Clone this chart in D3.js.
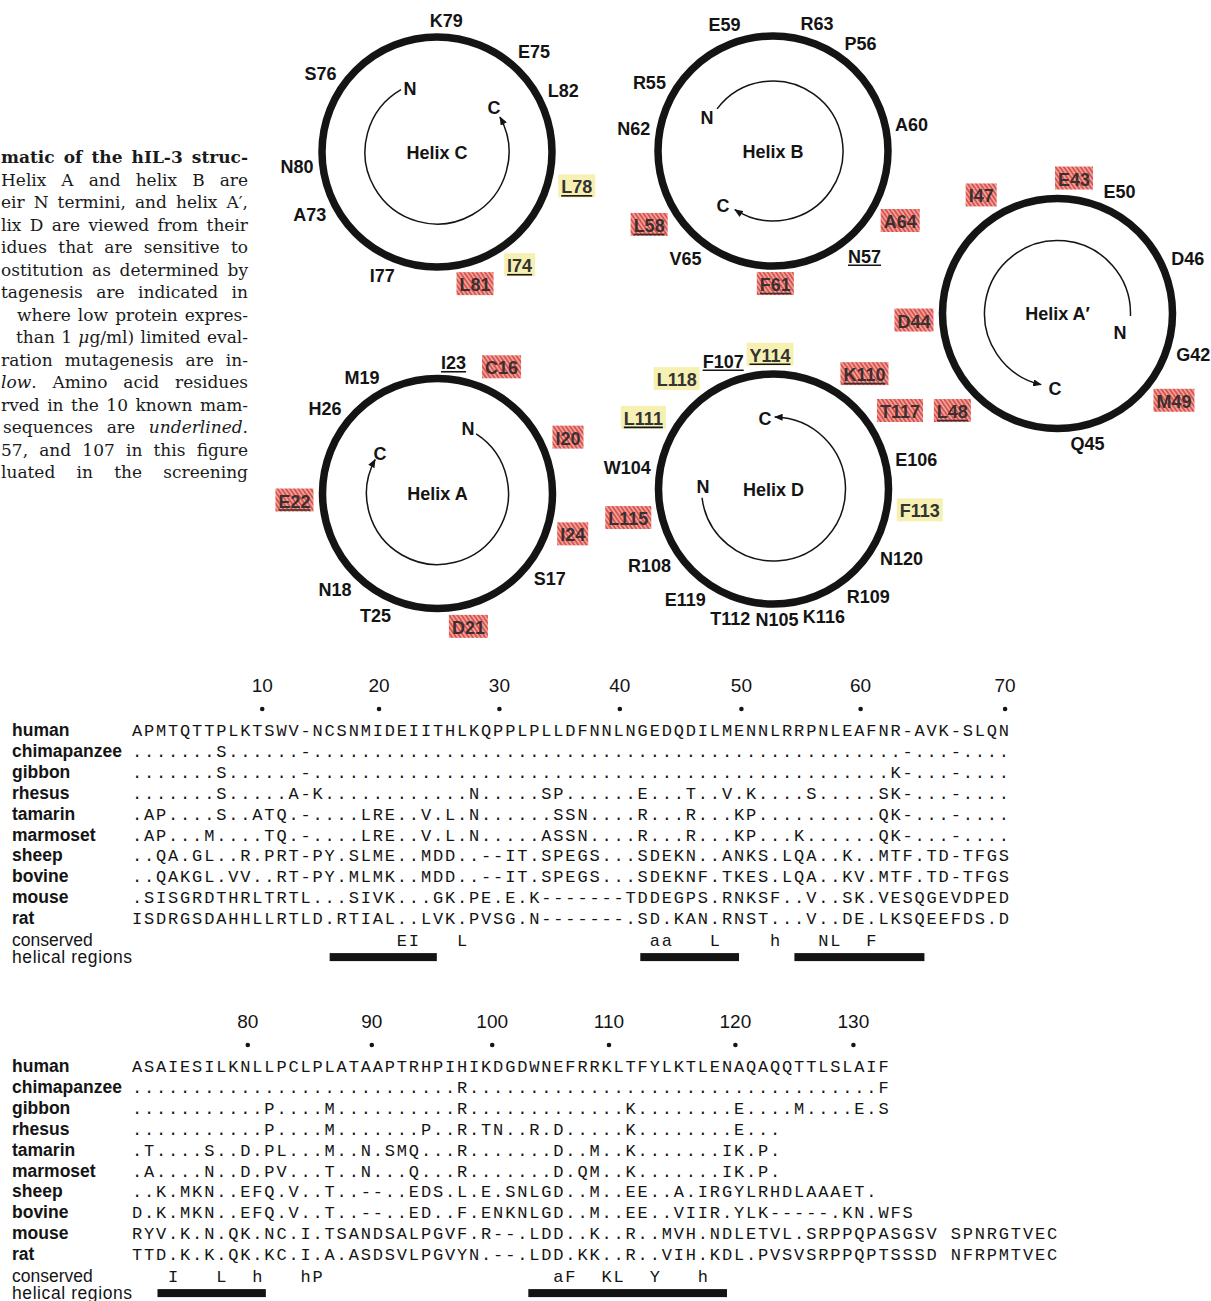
<!DOCTYPE html>
<html>
<head>
<meta charset="utf-8">
<title>hIL-3 helical wheels and mammalian IL-3 alignment</title>
<script src="https://cdn.jsdelivr.net/npm/d3@7/dist/d3.min.js"></script>
<style>
  html, body { margin: 0; padding: 0; background: #fff; }
  svg { display: block; }
</style>
</head>
<body>
<script>
// ---------------------------------------------------------------
// Alignment of the ten known mammalian IL-3 sequences,
// written in blocks of ten columns ("." = identical to human).
// ---------------------------------------------------------------
const species = ["human", "chimapanzee", "gibbon", "rhesus", "tamarin",
                 "marmoset", "sheep", "bovine", "mouse", "rat"];

const block1 = [
  ["APMTQTTPLK","TSWV-NCSNM","IDEIITHLKQ","PPLPLLDFNN","LNGEDQDILM","ENNLRRPNLE","AFNR-AVK-S","LQN"],
  [".......S..","....-.....","..........","..........","..........","..........","....-...-.","..."],
  [".......S..","....-.....","..........","..........","..........","..........","...K-...-.","..."],
  [".......S..","...A-K....","........N.","....SP....","..E...T..V",".K....S...","..SK-...-.","..."],
  [".AP....S..","ATQ.-....L","RE..V.L.N.",".....SSN..","..R...R...","KP........","..QK-...-.","..."],
  [".AP...M...",".TQ.-....L","RE..V.L.N.","....ASSN..","..R...R...","KP...K....","..QK-...-.","..."],
  ["..QA.GL..R",".PRT-PY.SL","ME..MDD..-","-IT.SPEGS.","..SDEKN..A","NKS.LQA..K","..MTF.TD-T","FGS"],
  ["..QAKGL.VV","..RT-PY.ML","MK..MDD..-","-IT.SPEGS.","..SDEKNF.T","KES.LQA..K","V.MTF.TD-T","FGS"],
  [".SISGRDTHR","LTRTL...SI","VK...GK.PE",".E.K------","-TDDEGPS.R","NKSF..V..S","K.VESQGEVD","PED"],
  ["ISDRGSDAHH","LLRTLD.RTI","AL..LVK.PV","SG.N------","-.SD.KAN.R","NST...V..D","E.LKSQEEFD","S.D"]
].map(chunks => chunks.join(""));

const block2 = [
  ["ASAIESILKN","LLPCLPLATA","APTRHPIHIK","DGDWNEFRRK","LTFYLKTLEN","AQAQQTTLSL","AIF"],
  ["..........","..........",".......R..","..........","..........","..........","..F"],
  ["..........",".P....M...",".......R..","..........",".K........","E....M....","E.S"],
  ["..........",".P....M...","....P..R.T","N..R.D....",".K........","E..."],
  [".T....S..D",".PL...M..N",".SMQ...R..",".....D..M.",".K.......I","K.P."],
  [".A....N..D",".PV...T..N","...Q...R..",".....D.QM.",".K.......I","K.P."],
  ["..K.MKN..E","FQ.V..T..-","-..EDS.L.E",".SNLGD..M.",".EE..A.IRG","YLRHDLAAAE","T."],
  ["D.K.MKN..E","FQ.V..T..-","-..ED..F.E","NKNLGD..M.",".EE..VIIR.","YLK-----.K","N.WFS"],
  ["RYV.K.N.QK",".NC.I.TSAN","DSALPGVF.R","--.LDD..K.",".R..MVH.ND","LETVL.SRPP","QPASGSV SP","NRGTVEC"],
  ["TTD.K.K.QK",".KC.I.A.AS","DSVLPGVYN.","--.LDD.KK.",".R..VIH.KD","L.PVSVSRPP","QPTSSSD NF","RPMTVEC"]
].map(chunks => chunks.join(""));

// Consensus line: capitals = identical in all ten, a = acidic, h = hydrophobic
const conserved1 = ["          ","          ","  EI   L  ","          ","   aa   L ","   h   NL "," F"].join("");
const conserved2 = ["   I   L  ","h   hP    ","          ","     aF  K","L  Y   h"].join("");

// Residue-number ticks and the alignment column each one sits over
const tickLabels1 = [10, 20, 30, 40, 50, 60, 70];
const tickCols1   = [10.4, 20.1, 30.1, 40.1, 50.2, 60.1, 72.1];
const tickLabels2 = [80, 90, 100, 110, 120, 130];
const tickCols2   = [9.2, 19.5, 29.5, 39.2, 49.7, 59.5];

// Helical regions, as [first column, last column] spans of the alignment
const helices1 = [[16.5, 25.4], [42.3, 50.5], [55.1, 65.9]];
const helices2 = [[2.2, 11.2], [33.0, 49.5]];

// ---------------------------------------------------------------
// Helical wheels (residue numbers in the mature hIL-3 sequence)
// ---------------------------------------------------------------
const helixNames  = ["Helix C", "Helix B", "Helix A\u2032", "Helix A", "Helix D"];
const helixFirst  = [73, 55, 42, 16, 104];
const helixLast   = [82, 65, 50, 26, 120];
const sensitive   = [16, 20, 21, 22, 24, 43, 44, 47, 48, 49, 58, 61, 64, 81, 110, 115, 117];
const lowExpressed = [74, 78, 111, 113, 114, 118];

// Caption fragment to the left of the wheels
const caption = [
  [{t: "matic of the hIL-3 struc-", b: true}],
  [{t: "Helix A and helix B are"}],
  [{t: "eir N termini, and helix A\u2032,"}],
  [{t: "lix D are viewed from their"}],
  [{t: "idues that are sensitive to"}],
  [{t: "ostitution as determined by"}],
  [{t: "tagenesis are indicated in"}],
  [{t: "where low protein expres-"}],
  [{t: "than 1 "}, {t: "\u03bc", i: true}, {t: "g/ml) limited eval-"}],
  [{t: "ration mutagenesis are in-"}],
  [{t: "low", i: true}, {t: ". Amino acid residues"}],
  [{t: "rved in the 10 known mam-"}],
  [{t: "sequences are "}, {t: "underlined", i: true}, {t: "."}],
  [{t: "57, and 107 in this figure"}],
  [{t: "luated in the screening"}]
];

// ---------------------------------------------------------------
const W = 1211, H = 1301;
const SANS = "'Liberation Sans', Arial, Helvetica, sans-serif";
const MONO = "'Liberation Mono', 'Courier New', monospace";
const SERIF = "'DejaVu Serif', 'Liberation Serif', serif";
const INK = "#141414";

const svg = d3.select("body").append("svg")
  .attr("width", W).attr("height", H)
  .attr("viewBox", `0 0 ${W} ${H}`);
svg.append("rect").attr("width", W).attr("height", H).attr("fill", "#fff");

const defs = svg.append("defs");
const hatch = defs.append("pattern").attr("id", "hatch")
  .attr("patternUnits", "userSpaceOnUse").attr("width", 3.4).attr("height", 3.4)
  .attr("patternTransform", "rotate(-35)");
hatch.append("rect").attr("width", 3.4).attr("height", 3.4).attr("fill", "#f0a09a");
hatch.append("rect").attr("width", 1.7).attr("height", 3.4).attr("fill", "#d9534d");

defs.append("marker").attr("id", "arrow")
  .attr("viewBox", "0 0 10 8").attr("refX", 9).attr("refY", 4)
  .attr("markerUnits", "userSpaceOnUse")
  .attr("markerWidth", 9).attr("markerHeight", 7).attr("orient", "auto")
  .append("path").attr("d", "M0,0 L10,4 L0,8 Z").attr("fill", INK);

// ----- caption fragment, justified to a right margin -----
const capG = svg.append("g").attr("font-family", SERIF).attr("font-size", 17).attr("fill", "#1a1a1a");
const capRight = 248;
const capIndent = [1, 1, 1, 1, 1, 1, 1, 17, 16, 1, 1, 1, 3, 1, 1];
caption.forEach((segs, i) => {
  const x0 = capIndent[i];
  const t = capG.append("text").attr("x", x0).attr("y", 163 + 22.5 * i);
  segs.forEach(s => t.append("tspan").text(s.t)
    .attr("font-style", s.i ? "italic" : null)
    .attr("font-weight", s.b ? "bold" : null));
  const full = segs.map(s => s.t).join("");
  const natural = t.node().getComputedTextLength();
  const gaps = (full.match(/ /g) || []).length;
  const extra = capRight - x0 - natural;
  if (extra >= 0 && gaps > 0) t.attr("word-spacing", extra / gaps);
  else t.attr("textLength", capRight - x0).attr("lengthAdjust", "spacingAndGlyphs");
});

// ----- human residue numbering from the alignment -----
const humanSeq = (block1[0] + block2[0]).replace(/-/g, "");
const residueAt = n => humanSeq[n - 1];

function colToResidue(humanRow, startNum) {
  const map = [];
  let n = startNum;
  for (const ch of humanRow) { map.push(ch === "-" ? null : n); if (ch !== "-") n++; }
  return map;
}
const colRes1 = colToResidue(block1[0], 1);
const colRes2 = colToResidue(block2[0], 71);
const conservedIds = new Set();
[[conserved1, colRes1], [conserved2, colRes2]].forEach(([line, map]) => {
  [...line].forEach((ch, c) => { if (/[A-Z]/.test(ch) && map[c] != null) conservedIds.add(map[c]); });
});

// ----- helical wheels -----
const wheelLayout = [
  {cx: 437,    cy: 152,   phase: 154,    step: -100, arc: {r: 72, a0: -120, a1: -29,  ccw: true},  n: [-27, -64],   c: [57, -45]},
  {cx: 773,    cy: 151,   phase: -151,   step: 100,  arc: {r: 70, a0: -143, a1: 123,  ccw: false}, n: [-66, -34],   c: [-50, 54]},
  {cx: 1057.5, cy: 313.5, phase: 17,     step: -100, arc: {r: 73, a0: 2,    a1: -257, ccw: true},  n: [62.5, 18.5], c: [-2.5, 74.5]},
  {cx: 437.5,  cy: 493.5, phase: -63,    step: 100,  arc: {r: 71, a0: -57,  a1: 208.5, ccw: false}, n: [30.5, -65.5], c: [-57.5, -40.5]},
  {cx: 773.5,  cy: 489,   phase: -171.5, step: -100, arc: {r: 72, a0: 173,  a1: -89,  ccw: true},  n: [-70.5, -3],  c: [-8.5, -71]}
];
const RING = 115, RING_W = 7.5, FS = 18, CAP = 13;
const rad = d => d * Math.PI / 180;

helixNames.forEach((name, k) => {
  const L = wheelLayout[k];
  const g = svg.append("g").attr("transform", `translate(${L.cx},${L.cy})`)
    .attr("font-family", SANS).attr("font-weight", "bold").attr("font-size", FS);

  g.append("circle").attr("r", RING).attr("fill", "none")
    .attr("stroke", INK).attr("stroke-width", RING_W);

  const p = d3.path();
  const a0 = rad(L.arc.a0), a1 = rad(L.arc.a1);
  p.moveTo(L.arc.r * Math.cos(a0), L.arc.r * Math.sin(a0));
  p.arc(0, 0, L.arc.r, a0, a1, L.arc.ccw);
  g.append("path").attr("d", p.toString()).attr("fill", "none")
    .attr("stroke", INK).attr("stroke-width", 1.5).attr("marker-end", "url(#arrow)");

  g.append("text").attr("text-anchor", "middle").attr("y", CAP / 2).attr("fill", INK).text(name);
  g.append("text").attr("text-anchor", "middle").attr("x", L.n[0]).attr("y", L.n[1] + CAP / 2).attr("fill", INK).text("N");
  g.append("text").attr("text-anchor", "middle").attr("x", L.c[0]).attr("y", L.c[1] + CAP / 2).attr("fill", INK).text("C");

  const residues = d3.range(helixFirst[k], helixLast[k] + 1);
  residues.forEach(num => {
    const label = residueAt(num) + num;
    const red = sensitive.includes(num), yellow = lowExpressed.includes(num);
    const boxed = red || yellow;
    const a = rad(L.phase + L.step * (num - helixFirst[k]));
    const lg = g.append("g");
    const txt = lg.append("text").attr("text-anchor", "middle")
      .attr("fill", red ? "#3b2f2f" : yellow ? "#333" : INK).text(label);
    const w = txt.node().getComputedTextLength();
    const hw = w / 2 + (boxed ? 3 : 0), hh = CAP / 2 + (boxed ? 3 : 0);
    const d = RING + RING_W / 2 + 5 + hw * Math.abs(Math.cos(a)) + hh * Math.abs(Math.sin(a));
    const x = d * Math.cos(a), y = d * Math.sin(a);
    txt.attr("x", x).attr("y", y + CAP / 2);
    if (boxed) {
      lg.insert("rect", "text")
        .attr("x", x - w / 2 - 3).attr("y", y - CAP / 2 - 6)
        .attr("width", w + 6).attr("height", CAP + 10)
        .attr("fill", red ? "url(#hatch)" : "#f6f1b2");
    }
    if (conservedIds.has(num)) {
      lg.append("line").attr("x1", x - w / 2).attr("x2", x + w / 2)
        .attr("y1", y + CAP / 2 + 2.5).attr("y2", y + CAP / 2 + 2.5)
        .attr("stroke", red ? "#3b2f2f" : INK).attr("stroke-width", 1.6);
    }
  });
});

// ----- alignment blocks -----
const CELL = 12.04, X0 = 131;
function drawBlock(rows, conserved, tickLabels, tickCols, helices, top) {
  const nCols = d3.max(rows, r => r.length);
  const x = d3.scaleLinear().domain([0, nCols]).range([X0, X0 + nCols * CELL]);
  const rowY = d3.scaleLinear().domain([0, species.length - 1]).range([top, top + 9 * 20.9]);
  const g = svg.append("g");

  // residue number ticks
  tickLabels.forEach((lab, i) => {
    const cx = x(tickCols[i] + 0.5);
    g.append("text").attr("x", cx).attr("y", top - 44).attr("text-anchor", "middle")
      .attr("font-family", SANS).attr("font-size", 19).attr("fill", INK).text(lab);
    g.append("circle").attr("cx", cx).attr("cy", top - 27).attr("r", 2.3).attr("fill", INK);
  });

  // species names
  g.selectAll("text.sp").data(species).join("text").attr("class", "sp")
    .attr("x", 12).attr("y", (d, i) => rowY(i))
    .attr("font-family", SANS).attr("font-weight", "bold").attr("font-size", 17.5)
    .attr("fill", INK).text(d => d);

  // sequence characters, one per alignment column
  rows.forEach((row, i) => {
    const chars = [...row].map((ch, c) => ({ch, c})).filter(o => o.ch !== " ");
    g.append("g").attr("font-family", MONO).attr("font-size", 17).attr("fill", INK)
      .attr("text-anchor", "middle")
      .selectAll("text").data(chars).join("text")
      .attr("x", o => x(o.c + 0.5)).attr("y", rowY(i)).text(o => o.ch);
  });

  // consensus row
  const consY = rowY(9) + 22;
  g.append("text").attr("x", 12).attr("y", consY).attr("font-family", SANS)
    .attr("font-size", 17.5).attr("fill", INK).text("conserved");
  g.append("g").attr("font-family", MONO).attr("font-size", 17).attr("fill", INK)
    .attr("text-anchor", "middle")
    .selectAll("text").data([...conserved].map((ch, c) => ({ch, c})).filter(o => o.ch !== " "))
    .join("text").attr("x", o => x(o.c + 0.5)).attr("y", consY).text(o => o.ch);

  // helical regions
  const barY = consY + 11;
  g.append("text").attr("x", 12).attr("y", barY + 6).attr("font-family", SANS)
    .attr("font-size", 17.5).attr("fill", INK)
    .attr("textLength", 120).attr("lengthAdjust", "spacing").text("helical regions");
  g.selectAll("rect.hx").data(helices).join("rect").attr("class", "hx")
    .attr("x", d => x(d[0])).attr("width", d => x(d[1]) - x(d[0]))
    .attr("y", barY - 4).attr("height", 8).attr("fill", INK);
}

drawBlock(block1, conserved1, tickLabels1, tickCols1, helices1, 736);
drawBlock(block2, conserved2, tickLabels2, tickCols2, helices2, 1072);
</script>
</body>
</html>
